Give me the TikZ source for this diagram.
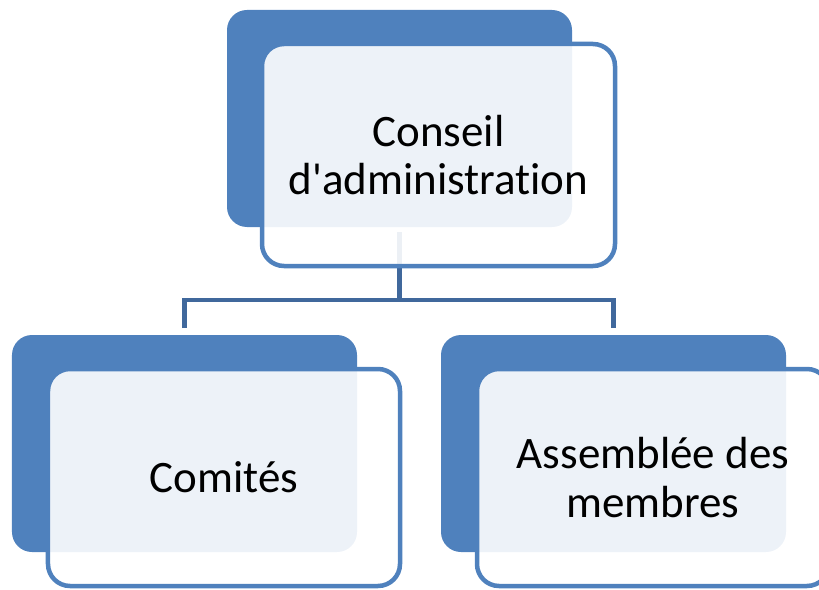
\documentclass[tikz,border=0pt]{standalone}
\usepackage{fontspec}
\setmainfont{Carlito}[Ligatures={NoCommon}]
\definecolor{accent}{HTML}{4F81BD}
\definecolor{linkc}{HTML}{40689C}
\begin{document}
\begin{tikzpicture}[x=1bp,y=-1bp,
  back/.style={fill=accent, draw=none, rounded corners=20bp, minimum width=345bp, minimum height=217bp, inner sep=0pt, outer sep=0pt},
  front/.style={fill=white, fill opacity=0.9, text opacity=1, draw=accent, line width=4.5bp, rounded corners=22bp, minimum width=353bp, minimum height=222bp, inner sep=0pt, outer sep=0pt, align=center, text=black, font=\fontsize{45bp}{48.5bp}\selectfont},
  link/.style={draw=linkc, line width=4.5bp}]
\useasboundingbox (0,0) rectangle (819,590);
% top
\node[back] (b0) at (399.5,118.5) {};
\coordinate (t0) at (399.5,232);
\coordinate (j) at (399.5,300);
\coordinate (l) at (184.5,328);
\coordinate (r) at (613.5,328);
\draw[link] (t0) -- (j);
\draw[link] (l) |- (j) -| (r);
\node[front] (f0) at (438.5,155) {Conseil\\d\textquotesingle administration};
% bottom left
\node[back] (b1) at (184.5,443.5) {};
\node[front, minimum width=352bp, minimum height=217bp] (f1) at (224,477.5) {Comités};
% bottom right
\node[back] (b2) at (613.5,443.5) {};
\node[front, minimum width=352bp, minimum height=217bp] (f2) at (653,477.5) {Assemblée des\\membres};
\end{tikzpicture}
\end{document}
